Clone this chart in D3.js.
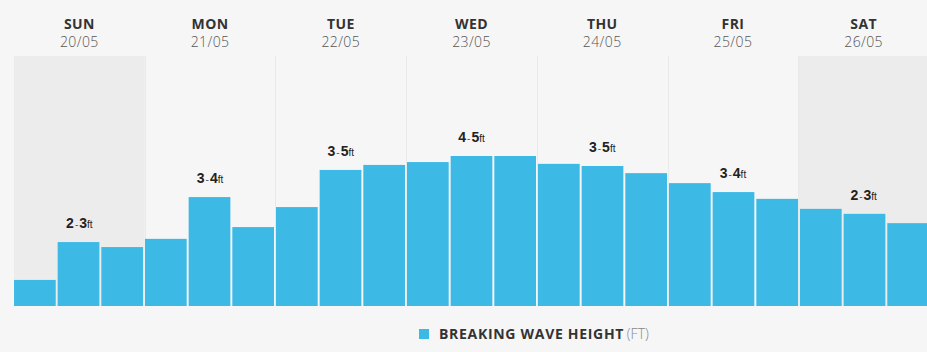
<!DOCTYPE html>
<html>
<head>
<meta charset="utf-8">
<script src="https://cdn.jsdelivr.net/npm/d3@7"></script>
<style>
  html, body { margin: 0; padding: 0; background: #f6f6f6; }
  svg { display: block; font-family: "Open Sans", "DejaVu Sans", sans-serif; }
</style>
</head>
<body>
<svg width="927" height="352"></svg>
<script>
// days shown across the top
const days = ["SUN", "MON", "TUE", "WED", "THU", "FRI", "SAT"]
const dates = ["20/05", "21/05", "22/05", "23/05", "24/05", "25/05", "26/05"]
const weekend = ["SUN", "SAT"]

// surf range label per day
const rangeLow = [2, 3, 3, 4, 3, 3, 2]
const rangeHigh = [3, 4, 5, 5, 5, 4, 3]

// breaking wave height (ft), three readings per day
const sun = [0.73, 1.79, 1.65]
const mon = [1.88, 3.05, 2.21]
const tue = [2.77, 3.81, 3.95]
const wed = [4.03, 4.2, 4.2]
const thu = [3.98, 3.92, 3.72]
const fri = [3.44, 3.19, 3.0]
const sat = [2.72, 2.58, 2.32]
const waves = [sun, mon, tue, wed, thu, fri, sat]

const svg = d3.select("svg")
const plotLeft = 14, plotRight = 929, plotTop = 56, plotBottom = 306

const xDay = d3.scaleBand().domain(days).range([plotLeft, plotRight])
const yScale = d3.scaleLinear().domain([0, 7]).range([plotBottom, plotTop])

// flatten bars
const bars = []
waves.forEach((vals, i) => vals.forEach((v, j) => bars.push({ key: days[i] + j, day: days[i], slot: j, value: v })))

const xBar = d3.scaleBand().domain(bars.map((d) => d.key)).range([plotLeft, plotRight]).paddingInner(0.045)

// weekend shading
svg.selectAll(".shade")
  .data(weekend)
  .enter()
  .append("rect")
  .attr("x", (d) => xDay(d))
  .attr("y", plotTop)
  .attr("width", xDay.bandwidth())
  .attr("height", plotBottom - plotTop)
  .attr("fill", "#ececec")

// day separators
svg.selectAll(".sep")
  .data(days.slice(1))
  .enter()
  .append("line")
  .attr("x1", (d) => Math.round(xDay(d)) + 0.5)
  .attr("x2", (d) => Math.round(xDay(d)) + 0.5)
  .attr("y1", plotTop)
  .attr("y2", plotBottom)
  .attr("stroke", "#e9e9e9")

// bars
svg.selectAll(".bar")
  .data(bars)
  .enter()
  .append("rect")
  .attr("class", "bar")
  .attr("x", (d) => xBar(d.key))
  .attr("y", (d) => yScale(d.value))
  .attr("width", xBar.bandwidth())
  .attr("height", (d) => plotBottom - yScale(d.value))
  .attr("fill", "#3db9e6")

// day headers
const head = svg.selectAll(".head")
  .data(days)
  .enter()
  .append("g")
  .attr("transform", (d) => `translate(${xDay(d) + xDay.bandwidth() / 2},0)`)

head.append("text")
  .attr("y", 29)
  .attr("text-anchor", "middle")
  .attr("font-size", 14)
  .attr("font-weight", 700)
  .attr("letter-spacing", 0.4)
  .attr("fill", "#333")
  .text((d) => d)

head.append("text")
  .attr("y", 47)
  .attr("text-anchor", "middle")
  .attr("font-size", 14)
  .attr("font-weight", 300)
  .attr("letter-spacing", 0.4)
  .attr("fill", "#555")
  .text((d, i) => dates[i])

// range labels above the middle bar
const lab = svg.selectAll(".range")
  .data(days)
  .enter()
  .append("text")
  .attr("x", (d) => xDay(d) + xDay.bandwidth() / 2)
  .attr("y", (d, i) => yScale(waves[i][1]) - 14)
  .attr("text-anchor", "middle")
  .attr("font-family", "'Liberation Sans', Arial, sans-serif")
  .attr("fill", "#222")

lab.append("tspan").attr("font-size", 14).attr("font-weight", 700).text((d, i) => rangeLow[i])
lab.append("tspan").attr("font-size", 10).attr("fill", "#555").attr("dx", 1).text("-")
lab.append("tspan").attr("font-size", 14).attr("font-weight", 700).attr("dx", 1).text((d, i) => rangeHigh[i])
lab.append("tspan").attr("font-size", 10).text("ft")

// legend
svg.append("rect")
  .attr("x", 419)
  .attr("y", 329)
  .attr("width", 10)
  .attr("height", 10)
  .attr("fill", "#3db9e6")

const leg = svg.append("text")
  .attr("x", 439)
  .attr("y", 339)
  .attr("font-size", 14)

leg.append("tspan").attr("font-weight", 700).attr("fill", "#333").attr("letter-spacing", 0.7).text("BREAKING WAVE HEIGHT")
leg.append("tspan").attr("fill", "#888").attr("font-weight", 300).attr("dx", -1).text(" (FT)")
</script>
</body>
</html>
